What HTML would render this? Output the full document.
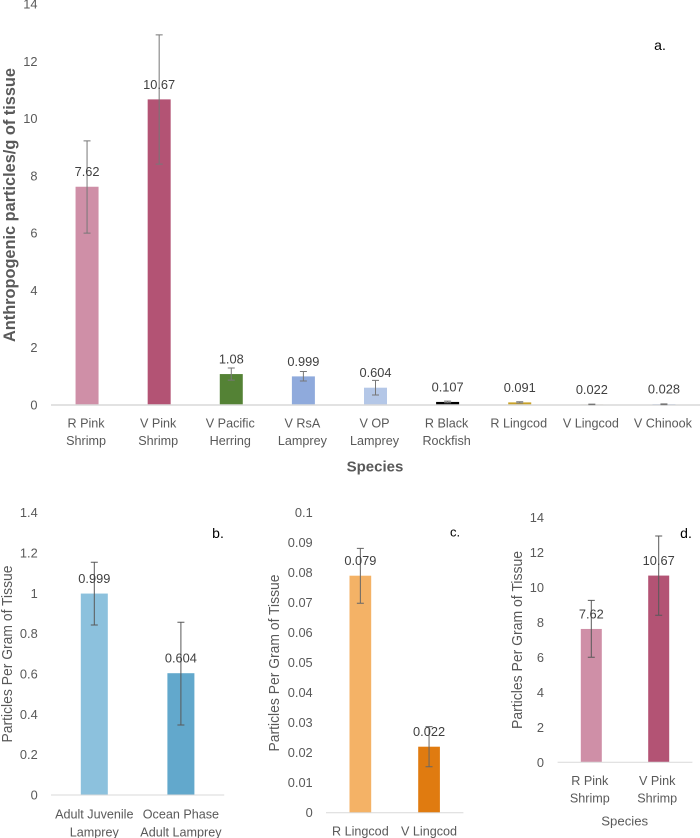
<!DOCTYPE html>
<html>
<head>
<meta charset="utf-8">
<title>Anthropogenic particles per gram of tissue</title>
<style>
html,body{margin:0;padding:0;background:#fff}
svg{display:block;font-family:"Liberation Sans",sans-serif}
</style>
</head>
<body>
<svg id="fig" width="700" height="838" viewBox="0 0 700 838" xmlns="http://www.w3.org/2000/svg"></svg>
<script>
// Panel a data
const aCategories = [['R Pink','Shrimp'],['V Pink','Shrimp'],['V Pacific','Herring'],['V RsA','Lamprey'],['V OP','Lamprey'],['R Black','Rockfish'],['R Lingcod'],['V Lingcod'],['V Chinook']];
const aValues = [7.62,10.67,1.08,0.999,0.604,0.107,0.091,0.022,0.028];
const aLabels = ['7.62','10.67','1.08','0.999','0.604','0.107','0.091','0.022','0.028'];
const aErrLow = [6.0,8.41,0.87,0.84,0.35,0.08,0.07,0.012,0.015];
const aErrHigh = [9.22,12.92,1.29,1.17,0.86,0.135,0.115,0.032,0.041];
const aColors = ['#CF8FA7','#B35374','#548235','#8FAADC','#B4C7E7','#000000','#C9A227','#C9C2A0','#8FAADC'];
const aTicks = ['0','2','4','6','8','10','12','14'];
// Panel b data
const bCategories = [['Adult Juvenile','Lamprey'],['Ocean Phase','Adult Lamprey']];
const bValues = [0.999,0.604];
const bLabels = ['0.999','0.604'];
const bErrLow = [0.843,0.347];
const bErrHigh = [1.154,0.857];
const bColors = ['#8CC1DD','#62A8CC'];
const bTicks = ['0','0.2','0.4','0.6','0.8','1','1.2','1.4'];
// Panel c data
const cCategories = [['R Lingcod'],['V Lingcod']];
const cValues = [0.079,0.022];
const cLabels = ['0.079','0.022'];
const cErrLow = [0.0698,0.0153];
const cErrHigh = [0.0881,0.0287];
const cColors = ['#F4B266','#E07B10'];
const cTicks = ['0','0.01','0.02','0.03','0.04','0.05','0.06','0.07','0.08','0.09','0.1'];
// Panel d data
const dCategories = [['R Pink','Shrimp'],['V Pink','Shrimp']];
const dValues = [7.62,10.67];
const dLabels = ['7.62','10.67'];
const dErrLow = [6.0,8.4];
const dErrHigh = [9.25,12.93];
const dColors = ['#CF8FA7','#B35374'];
const dTicks = ['0','2','4','6','8','10','12','14'];

const NS = 'http://www.w3.org/2000/svg';
const svg = document.getElementById('fig');

function mk(parent, tag, attrs, text) {
  const el = document.createElementNS(NS, tag);
  for (const k in attrs) el.setAttribute(k, attrs[k]);
  if (text !== undefined) el.textContent = text;
  parent.appendChild(el);
  return el;
}

function drawPanel(p) {
  const g = mk(svg, 'g', {});
  
  
  const maxTick = parseFloat(p.ticks[p.ticks.length - 1]);
  const yScale = v => p.y0 - (v / maxTick) * (p.y0 - p.yTop);
  const step = (p.right - p.left) / p.categories.length;
  const xScale = i => p.left + (i + 0.5) * step;

  p.ticks.forEach(t => {
    const el = mk(g, 'text', {x: p.tickX, y: yScale(parseFloat(t)), dy: '0.35em', 'text-anchor': 'end', 'font-size': 12.8, fill: '#595959'}, t);
    
    
  });

  p.values.forEach((v, i) => {
    const cx = xScale(i);
    const bar = mk(g, 'rect', {x: cx - p.barW / 2, y: yScale(v), width: p.barW, height: p.y0 - yScale(v), fill: p.colors[i]});
    
    
  });

  const axis = mk(g, 'line', {x1: p.left, x2: p.right, y1: p.y0, y2: p.y0, stroke: '#D9D9D9', 'stroke-width': p.axisW});
  
  

  p.values.forEach((v, i) => {
    const cx = xScale(i);
    const hi = yScale(p.errHigh[i]);
    const lo = yScale(p.errLow[i]);
    const eb = mk(g, 'path', {d: 'M' + (cx - 3.5) + ' ' + hi + 'H' + (cx + 3.5) + 'M' + cx + ' ' + hi + 'V' + lo + 'M' + (cx - 3.5) + ' ' + lo + 'H' + (cx + 3.5), fill: 'none', stroke: p.errColor, 'stroke-width': 1});
    
    

    const lab = mk(g, 'text', {x: cx, y: yScale(v) - 15, dy: '0.35em', 'text-anchor': 'middle', 'font-size': 12.8, fill: '#404040'}, p.labels[i]);
    
    

    p.categories[i].forEach((line, j) => {
      const c = mk(g, 'text', {x: cx + p.catShift, y: p.catY + j * p.catLine, dy: '0.35em', 'text-anchor': 'middle', 'font-size': 12.6, fill: '#595959'}, line);
      
      
    });
  });

  const yt = mk(g, 'text', {transform: 'translate(' + p.titleX + ' ' + p.titleY + ') rotate(-90)', dy: '0.35em', 'text-anchor': 'middle', 'font-size': p.titleSize, 'font-weight': p.titleWeight, fill: p.titleFill, textLength: p.titleLen, lengthAdjust: 'spacingAndGlyphs'}, p.title);
  
  

  const pl = mk(g, 'text', {x: p.tagX, y: p.tagY, dy: '0.35em', 'text-anchor': 'middle', 'font-size': p.tagSize, fill: '#000000'}, p.tag);
  
  
  return g;
}

const gA = drawPanel({name:'panel-a', categories:aCategories, values:aValues, labels:aLabels, errLow:aErrLow, errHigh:aErrHigh, colors:aColors, ticks:aTicks,
  left:51, right:700, y0:405, yTop:4, barW:23, axisW:1.5, tickX:37.5, catY:423, catLine:17.5, catShift:-1, errColor:'#777777',
  title:'Anthropogenic particles/g of tissue', titleX:9, titleY:205, titleSize:16.5, titleWeight:'bold', titleFill:'#595959', titleLen:274,
  tag:'a.', tagX:660, tagY:45, tagSize:14});
const gB = drawPanel({name:'panel-b', categories:bCategories, values:bValues, labels:bLabels, errLow:bErrLow, errHigh:bErrHigh, colors:bColors, ticks:bTicks,
  left:51, right:224.2, y0:795, yTop:512.7, barW:27, axisW:1, tickX:37.7, catY:814, catLine:18, catShift:0, errColor:'#595959',
  title:'Particles Per Gram of Tissue', titleX:7, titleY:654, titleSize:14.5, titleWeight:'normal', titleFill:'#595959', titleLen:177,
  tag:'b.', tagX:218, tagY:533, tagSize:14});
const gC = drawPanel({name:'panel-c', categories:cCategories, values:cValues, labels:cLabels, errLow:cErrLow, errHigh:cErrHigh, colors:cColors, ticks:cTicks,
  left:326, right:463.4, y0:812.7, yTop:512.7, barW:21.7, axisW:1, tickX:312.7, catY:831, catLine:18, catShift:0, errColor:'#666666',
  title:'Particles Per Gram of Tissue', titleX:274, titleY:663, titleSize:14.5, titleWeight:'normal', titleFill:'#595959', titleLen:177,
  tag:'c.', tagX:455, tagY:531.7, tagSize:13});
const gD = drawPanel({name:'panel-d', categories:dCategories, values:dValues, labels:dLabels, errLow:dErrLow, errHigh:dErrHigh, colors:dColors, ticks:dTicks,
  left:557.6, right:692.4, y0:762.3, yTop:517.3, barW:21, axisW:1, tickX:544, catY:780.7, catLine:17.5, catShift:-1.5, errColor:'#595959',
  title:'Particles Per Gram of Tissue', titleX:516.7, titleY:640, titleSize:14.5, titleWeight:'normal', titleFill:'#595959', titleLen:178,
  tag:'d.', tagX:686, tagY:533, tagSize:14});

const xtA = mk(gA, 'text', {x:375, y:466, dy:'0.35em', 'text-anchor':'middle', 'font-size':15, 'font-weight':'bold', fill:'#595959'}, 'Species');


const xtD = mk(gD, 'text', {x:624.7, y:821, dy:'0.35em', 'text-anchor':'middle', 'font-size':13.2, fill:'#595959'}, 'Species');


</script>
</body>
</html>
